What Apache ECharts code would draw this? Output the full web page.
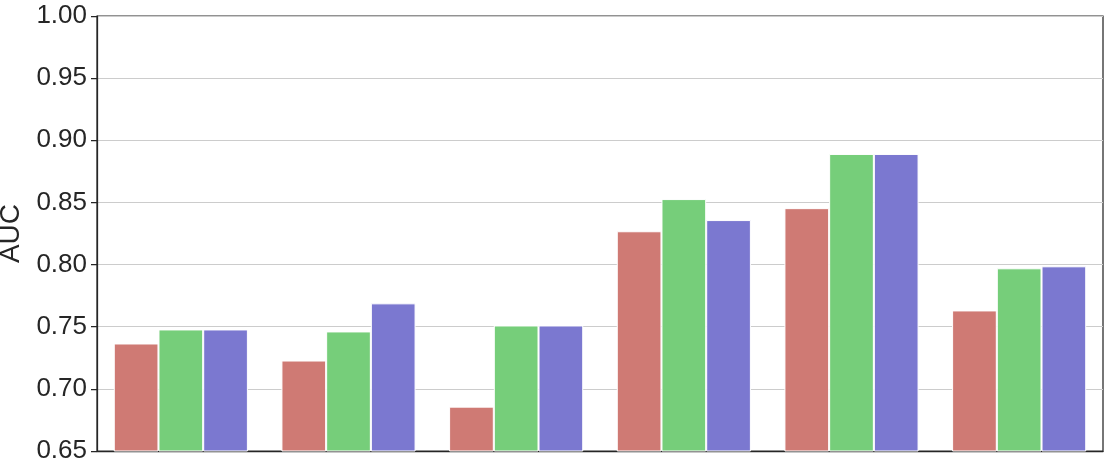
<!DOCTYPE html>
<html>
<head>
<meta charset="utf-8">
<script src="https://cdn.jsdelivr.net/npm/echarts@6/dist/echarts.min.js"></script>
<style>html,body{margin:0;padding:0;background:#fff;}#c{width:1109px;height:473px;}</style>
</head>
<body>
<div id="c"></div>
<script>
var categories = ['G1', 'G2', 'G3', 'G4', 'G5', 'G6'];
var seriesA = [0.7365, 0.7228, 0.6857, 0.8268, 0.8454, 0.7631];
var seriesB = [0.7478, 0.7462, 0.7510, 0.8527, 0.8890, 0.7970];
var seriesC = [0.7478, 0.7688, 0.7510, 0.8358, 0.8890, 0.7986];
var yTicks = [0.65, 0.70, 0.75, 0.80, 0.85, 0.90, 0.95, 1.00];
var colors = ['#cf7a74', '#76ce7a', '#7b78d0'];

var chart = echarts.init(document.getElementById('c'));
function mk(name, data, color) {
  return {
    name: name, type: 'bar', data: data,
    barGap: '0%', barCategoryGap: '20%',
    itemStyle: { color: color, borderColor: '#ffffff', borderWidth: 1 },
    silent: true
  };
}
chart.setOption({
  animation: false,
  grid: { left: 97, right: 6, top: 16, bottom: 22, containLabel: false, outerBoundsMode: 'none',
    show: true, borderColor: '#262626', borderWidth: 1.25, backgroundColor: 'transparent' },
  xAxis: {
    type: 'category', data: categories,
    axisLine: { show: true, lineStyle: { color: '#262626', width: 1.25 } },
    axisTick: { show: false }, axisLabel: { show: false }, splitLine: { show: false }
  },
  yAxis: {
    type: 'value', min: yTicks[0], max: yTicks[yTicks.length - 1], interval: 0.05,
    name: 'AUC', nameLocation: 'middle', nameGap: 63,
    nameTextStyle: { fontSize: 28, color: '#262626', fontFamily: 'Liberation Sans, Arial, sans-serif' },
    axisLine: { show: true, lineStyle: { color: '#262626', width: 1.25 } },
    axisTick: { show: true, length: 6, lineStyle: { color: '#262626', width: 1.25 } },
    axisLabel: { fontSize: 26, color: '#262626', margin: 10, fontFamily: 'Liberation Sans, Arial, sans-serif',
      formatter: function (v) { return v.toFixed(2); } },
    splitLine: { show: true, lineStyle: { color: '#cccccc', width: 1 } }
  },
  series: [mk('A', seriesA, colors[0]), mk('B', seriesB, colors[1]), mk('C', seriesC, colors[2])]
});
</script>
</body>
</html>
